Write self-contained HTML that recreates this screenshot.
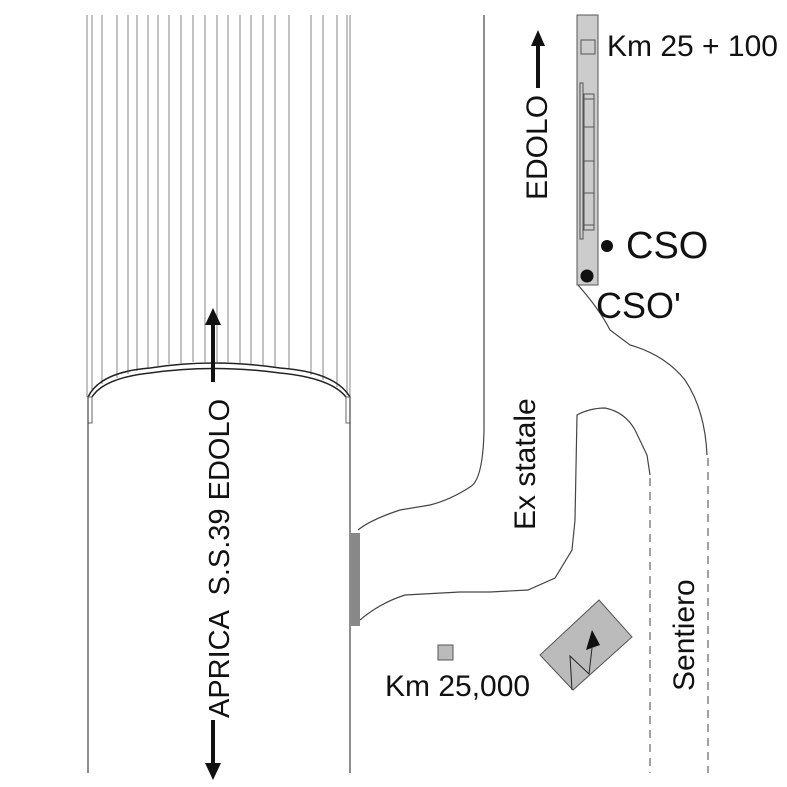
<!DOCTYPE html>
<html><head><style>body{margin:0;background:#fff}svg{display:block}text{font-family:"Liberation Sans",sans-serif;fill:#111}</style></head><body>
<svg width="787" height="787" viewBox="0 0 787 787" xmlns="http://www.w3.org/2000/svg">
<g stroke="#999" stroke-width="1.2">
<line x1="87" y1="15" x2="87" y2="397"/><line x1="92" y1="15" x2="92" y2="390"/><line x1="102" y1="15" x2="102" y2="384"/><line x1="117" y1="15" x2="117" y2="378"/><line x1="128" y1="15" x2="128" y2="374"/><line x1="137" y1="15" x2="137" y2="371"/><line x1="148" y1="15" x2="148" y2="368"/><line x1="158" y1="15" x2="158" y2="366"/><line x1="169" y1="15" x2="169" y2="364"/><line x1="181" y1="15" x2="181" y2="363"/><line x1="193" y1="15" x2="193" y2="362"/><line x1="205" y1="15" x2="205" y2="362"/><line x1="217" y1="15" x2="217" y2="362"/><line x1="228" y1="15" x2="228" y2="362"/><line x1="240" y1="15" x2="240" y2="363"/><line x1="251" y1="15" x2="251" y2="364"/><line x1="263" y1="15" x2="263" y2="365"/><line x1="275" y1="15" x2="275" y2="367"/><line x1="289" y1="15" x2="289" y2="369"/><line x1="311" y1="15" x2="311" y2="375"/><line x1="323" y1="15" x2="323" y2="380"/><line x1="337" y1="15" x2="337" y2="387"/><line x1="347" y1="15" x2="347" y2="395"/><line x1="350" y1="15" x2="350" y2="397"/>
</g>
<g fill="none" stroke="#222" stroke-width="1.5">
<path d="M88 397 Q100 372 150 368 Q213 358 280 368 Q335 372 350 397"/>
<path d="M92 397 Q104 378 150 373 Q213 364 280 373 Q331 378 346 397"/>
</g>
<rect x="88" y="397" width="4" height="26" fill="#fff" stroke="#666"/>
<rect x="346" y="397" width="4" height="26" fill="#fff" stroke="#666"/>
<g stroke="#444" stroke-width="1.2" fill="none">
<line x1="88" y1="397" x2="88" y2="773"/><line x1="350" y1="397" x2="350" y2="773"/>
<path d="M484 15 L484 430 Q483 480 470 487 Q450 500 430 505 L400 510 Q370 520 358 530"/>
<path d="M360 620 Q380 603 405 595 L460 592 L490 592 L528 590 L555 578 L572 550 L575 520 L577 415 Q590 408 605 408 Q625 412 635 430 L647 455 L650 475"/>
<path d="M578 285 Q600 310 610 330 L630 345 Q665 355 685 380 Q705 410 707 455"/>
</g>
<g stroke="#444" stroke-width="1" stroke-dasharray="8,6" fill="none">
<line x1="650" y1="478" x2="650" y2="773"/><line x1="708" y1="458" x2="708" y2="773"/>
</g>
<rect x="351" y="533" width="9" height="93" fill="#888"/>
<rect x="577" y="15" width="21" height="270" fill="#ccc" stroke="#555"/>
<rect x="581" y="40" width="14" height="14" fill="#ccc" stroke="#555"/>
<rect x="580" y="83" width="3" height="156" fill="#ccc" stroke="#555"/>
<rect x="584" y="94" width="10" height="136" fill="#ccc" stroke="#555"/>
<g stroke="#555"><line x1="584" y1="99" x2="594" y2="99"/><line x1="584" y1="127" x2="594" y2="127"/><line x1="584" y1="161" x2="594" y2="161"/><line x1="584" y1="193" x2="594" y2="193"/><line x1="584" y1="225" x2="594" y2="225"/></g>
<circle cx="607" cy="246" r="6" fill="#111"/>
<circle cx="587" cy="276" r="6.5" fill="#111"/>
<rect x="438" y="645" width="15" height="15" fill="#bbb" stroke="#555"/>
<polygon points="599,600 632,637 573,690 540,655" fill="#bbb" stroke="#555"/>
<path d="M572 690 L570 656 L589 674 L592 648" fill="none" stroke="#222"/>
<polygon points="592,630 586,650 600,645" fill="#111"/>
<text x="607" y="56" font-size="30">Km 25 + 100</text>
<text x="626" y="258" font-size="38">CSO</text>
<text x="596" y="318" font-size="36">CSO'</text>
<text x="385" y="696" font-size="30">Km 25,000</text>
<text transform="translate(547,200) rotate(-90)" font-size="30">EDOLO</text>
<text transform="translate(535,530) rotate(-90)" font-size="30">Ex statale</text>
<text transform="translate(694,691) rotate(-90)" font-size="30">Sentiero</text>
<text transform="translate(229,718) rotate(-90)" font-size="29" xml:space="preserve">APRICA  S.S.39 EDOLO</text>
<g stroke="#111" stroke-width="4"><line x1="538" y1="45" x2="538" y2="88"/><line x1="213" y1="320" x2="213" y2="382"/><line x1="213" y1="720" x2="213" y2="768"/></g>
<polygon points="538,30 531,46 545,46" fill="#111"/>
<polygon points="213,308 205,325 221,325" fill="#111"/>
<polygon points="213,780 205,763 221,763" fill="#111"/>
</svg>
</body></html>
